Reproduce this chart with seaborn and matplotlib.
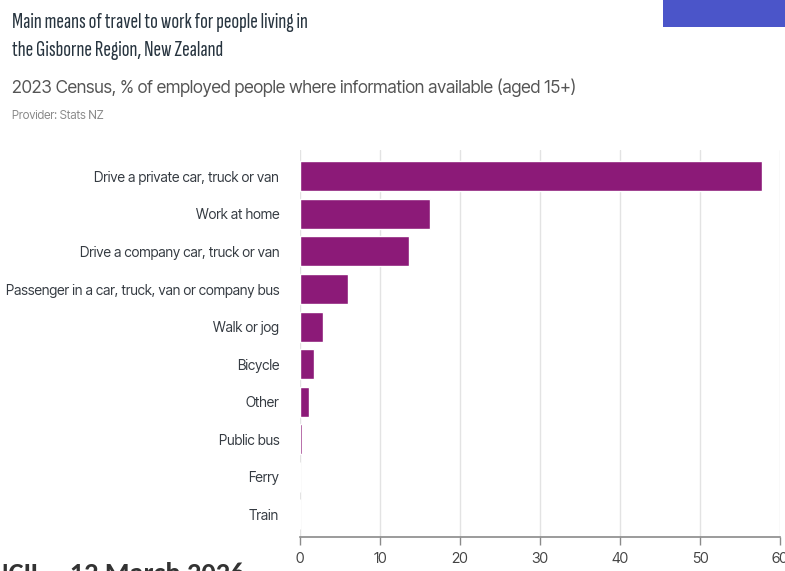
import matplotlib
matplotlib.use("Agg")
import matplotlib.pyplot as plt
import seaborn as sns
import pandas as pd
from matplotlib.patches import Rectangle

categories = [
    "Drive a private car, truck or van",
    "Work at home",
    "Drive a company car, truck or van",
    "Passenger in a car, truck, van or company bus",
    "Walk or jog",
    "Bicycle",
    "Other",
    "Public bus",
    "Ferry",
    "Train",
]
values = [57.8, 16.3, 13.6, 6.0, 2.9, 1.8, 1.1, 0.2, 0.0, 0.0]
x_ticks = [0, 10, 20, 30, 40, 50, 60]

df = pd.DataFrame({"mode": categories, "pct": values})

sns.set_theme(style="white")
MAIN = ["Inter Tight", "Roboto Condensed", "DejaVu Sans"]
TITLE = ["Sofia Sans Extra Condensed", "Roboto Condensed", "DejaVu Sans"]
plt.rcParams["font.family"] = MAIN

fig = plt.figure(figsize=(7.85, 5.71), dpi=100)
ax = fig.add_axes([300 / 785, 1 - 537 / 571, 480 / 785, (537 - 150) / 571])

sns.barplot(data=df, x="pct", y="mode", color="#8c1a78", saturation=1,
            width=0.8, ax=ax, zorder=3)

ax.set_xlim(0, 60)
ax.set_ylim(9.6, -0.7)
ax.set_xticks(x_ticks)
ax.set_xticklabels([str(t) for t in x_ticks])
ax.grid(axis="x", color="#e3e3e3", linewidth=1, zorder=0)
ax.set_xlabel("")
ax.set_ylabel("")
for s in ["top", "right", "left"]:
    ax.spines[s].set_visible(False)
ax.spines["bottom"].set_color("#8a8a8a")
ax.spines["bottom"].set_linewidth(1.2)
ax.tick_params(axis="x", bottom=True, length=6, color="#8a8a8a", width=1,
               labelsize=10.5, labelcolor="#444444", pad=5)
ax.tick_params(axis="y", left=False, labelsize=10, labelcolor="#353b42", pad=9)

fig.text(12 / 785, 1 - 22 / 571, "Main means of travel to work for people living in",
         fontsize=16.5, color="#27343f", va="center", ha="left",
         family=TITLE, fontweight="semibold")
fig.text(12 / 785, 1 - 50 / 571, "the Gisborne Region, New Zealand",
         fontsize=16.5, color="#27343f", va="center", ha="left",
         family=TITLE, fontweight="semibold")
fig.text(12 / 785, 1 - 88 / 571,
         "2023 Census, % of employed people where information available (aged 15+)",
         fontsize=12.5, color="#555555", va="center", ha="left")
fig.text(12 / 785, 1 - 116 / 571, "Provider: Stats NZ",
         fontsize=8.5, color="#8a8a8a", va="center", ha="left")

fig.patches.append(Rectangle((663 / 785, 1 - 27 / 571), 122 / 785, 27 / 571,
                             transform=fig.transFigure, facecolor="#4b55c9",
                             edgecolor="none"))

fig.text(-10 / 785, 1 - 582 / 571, "NCIL \u2013 12 March 2026", fontsize=20.3,
         fontweight="bold", color="#333333", va="baseline", ha="left",
         family=["Carlito", "Open Sans", "Liberation Sans", "DejaVu Sans"])

fig.savefig("out.png", dpi=100)
